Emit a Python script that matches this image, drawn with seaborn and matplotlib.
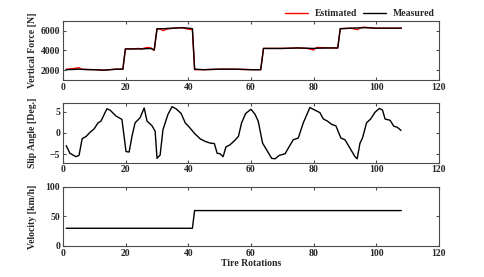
import matplotlib
matplotlib.use("Agg")
import matplotlib.pyplot as plt
import numpy as np
import pandas as pd
import seaborn as sbn

# ---------------------------------------------------------------------------
# data
# ---------------------------------------------------------------------------
force_x = [1, 3, 5, 6, 8, 10, 13, 17, 19.1, 19.9, 22, 24, 25, 27, 28, 29.1, 30.0, 31, 32, 33, 35, 38,
           40, 41.3, 42.0, 45, 50, 55, 60, 63.1, 64.0, 70, 75, 78, 80, 81, 85, 87.7, 88.5, 92, 94,
           95, 96, 100, 104, 108]
force_measured = [2050, 2070, 2100, 2080, 2060, 2050, 2000, 2100, 2100, 4150, 4150, 4150, 4150, 4180, 4200,
                  4050, 6200, 6200, 6200, 6220, 6250, 6300, 6250, 6200, 2100, 2050, 2100, 2100, 2050,
                  2050, 4200, 4200, 4250, 4220, 4200, 4220, 4250, 4250, 6200, 6250, 6280, 6280, 6300,
                  6250, 6250, 6250]
force_estimated = [2100, 2150, 2250, 2100, 2060, 2050, 2000, 2100, 2100, 4150, 4150, 4200, 4150, 4300, 4250,
                   4000, 6200, 6150, 6000, 6150, 6250, 6300, 6150, 6100, 2050, 2050, 2100, 2100, 2050,
                   2050, 4200, 4200, 4250, 4200, 4050, 4300, 4250, 4250, 6200, 6250, 6100,
                   6300, 6350, 6250, 6250, 6250]

slip_x = [1.0, 2.2, 4.1, 5.1, 6.1, 7.4, 8.6, 9.9, 11.2, 12.1, 14.0, 15.0, 16.9, 18.8, 20.1, 21.1, 22.0,
          23.0, 24.6, 25.9, 26.8, 28.4, 29.4, 30.0, 31.0, 31.9, 33.5, 34.8, 36.1, 37.7, 39.0, 40.5,
          42.1, 43.8, 45.4, 47.0, 48.3, 49.2, 50.1, 51.1, 52.0, 53.3, 54.9, 56.0, 57.0, 58.3, 60.0,
          61.3, 62.3, 63.7, 65.0, 66.6, 67.7, 69.0, 70.9, 71.9, 73.5, 75.1, 76.7, 78.8, 80.4, 82.0,
          83.1, 84.4, 85.8, 87.1, 88.7, 90.0, 91.6, 93.2, 93.9, 94.8, 95.6, 96.9, 98.2, 99.6, 101.0,
          102.0, 102.8, 104.4, 105.6, 106.7, 107.9]
slip_angle = [-3.0, -4.8, -5.6, -5.3, -1.35, -0.8, 0.15, 0.95, 2.4, 2.8, 5.7, 5.4, 4.0, 3.2, -4.4, -4.5,
              -0.8, 2.4, 3.6, 5.9, 2.8, 1.7, 0.4, -6.0, -5.2, 0.8, 4.4, 6.2, 5.7, 4.6, 2.4, 1.2, -0.2,
              -1.4, -2.0, -2.4, -2.5, -4.8, -4.9, -5.6, -3.3, -2.8, -1.7, -0.8, 2.4, 4.6, 5.6, 4.4,
              2.8, -2.4, -4.0, -6.0, -6.1, -5.3, -4.9, -3.6, -1.6, -1.2, 2.4, 6.0, 5.4, 4.8, 3.3, 2.8,
              2.0, 1.7, -1.2, -1.6, -3.6, -5.6, -6.1, -2.4, -1.2, 2.4, 3.3, 4.9, 5.8, 5.4, 3.3, 3.0,
              1.6, 1.35, 0.6]

vel_x = [1, 41.3, 42.0, 108]
velocity = [30, 30, 60, 60]

# ---------------------------------------------------------------------------
# style
# ---------------------------------------------------------------------------
sbn.set_style("ticks")
plt.rcParams["font.family"] = ["Liberation Serif", "DejaVu Serif"]
plt.rcParams["font.weight"] = "bold"
plt.rcParams["axes.labelweight"] = "bold"
plt.rcParams["xtick.direction"] = "in"
plt.rcParams["ytick.direction"] = "in"
plt.rcParams["xtick.top"] = True
plt.rcParams["ytick.right"] = True
plt.rcParams["axes.edgecolor"] = "#4a4a4a"
plt.rcParams["axes.linewidth"] = 0.8
plt.rcParams["xtick.color"] = "#4a4a4a"
plt.rcParams["ytick.color"] = "#4a4a4a"
plt.rcParams["xtick.labelcolor"] = "#262626"
plt.rcParams["ytick.labelcolor"] = "#262626"
plt.rcParams["xtick.major.size"] = 2.5
plt.rcParams["ytick.major.size"] = 2.5

fs = 7

fig = plt.figure(figsize=(4.85, 2.77), dpi=100)
ax1 = fig.add_axes([0.130, 0.711, 0.775, 0.214])
ax2 = fig.add_axes([0.130, 0.413, 0.775, 0.214])
ax3 = fig.add_axes([0.130, 0.112, 0.775, 0.213])

df_force = pd.DataFrame({"x": force_x, "Estimated": force_estimated, "Measured": force_measured})
sbn.lineplot(data=df_force, x="x", y="Estimated", color="red", linewidth=1.0, label="Estimated", ax=ax1)
sbn.lineplot(data=df_force, x="x", y="Measured", color="black", linewidth=1.0, label="Measured", ax=ax1)
ax1.set_ylim(1000, 7000)
ax1.set_yticks([2000, 4000, 6000])
ax1.set_ylabel("Vertical Force [N]", fontsize=fs)
ax1.legend(loc="lower right", bbox_to_anchor=(1.0, 0.98), ncol=2, frameon=False, prop={"size": fs, "weight": "bold"},
           handlelength=2.4, handletextpad=0.7, columnspacing=0.55, borderaxespad=0.)

df_slip = pd.DataFrame({"x": slip_x, "y": slip_angle})
sbn.lineplot(data=df_slip, x="x", y="y", color="black", linewidth=1.0, ax=ax2)
ax2.set_ylim(-7, 7)
ax2.set_yticks([-5, 0, 5])
ax2.set_ylabel("Slip Angle [Deg.]", fontsize=fs)

df_vel = pd.DataFrame({"x": vel_x, "y": velocity})
sbn.lineplot(data=df_vel, x="x", y="y", color="black", linewidth=1.0, ax=ax3)
ax3.set_ylim(0, 100)
ax3.set_yticks([0, 50, 100])
ax3.set_ylabel("Velocity [km/h]", fontsize=fs)
ax3.set_xlabel("Tire Rotations", fontsize=fs, labelpad=1)

for ax in [ax1, ax2, ax3]:
    ax.set_xlim(0, 120)
    ax.set_xticks([0, 20, 40, 60, 80, 100, 120])
    if ax is not ax3:
        ax.set_xlabel("")
    ax.tick_params(labelsize=fs, pad=2)
    for lab in ax.get_xticklabels() + ax.get_yticklabels():
        lab.set_fontweight("bold")
    ax.yaxis.set_label_coords(-0.07, 0.5)

fig.savefig("out.png", dpi=100)
